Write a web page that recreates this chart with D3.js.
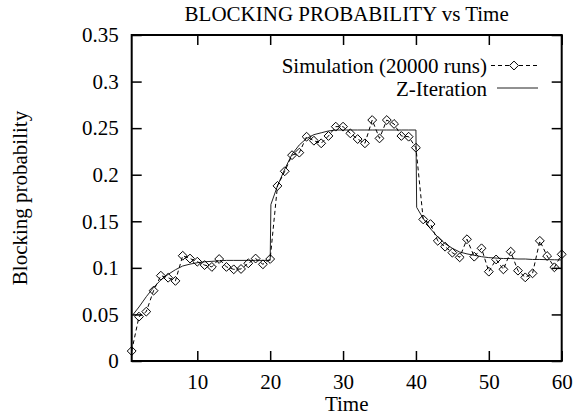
<!DOCTYPE html>
<html><head><meta charset="utf-8">
<script src="https://cdn.jsdelivr.net/npm/d3@7/dist/d3.min.js"></script>
<style>
body{margin:0;background:#fff;}
text{font-family:"Liberation Serif","Times New Roman",serif;font-size:21px;fill:#000;}
</style></head>
<body><svg id="c" width="583" height="418"></svg>
<script>
const simTime = d3.range(1, 61);
const simValues = [0.0107,0.0476,0.053,0.0755,0.0916,0.0894,0.086,0.113,0.110,0.1066,
  0.103,0.101,0.1095,0.101,0.0984,0.0988,0.1049,0.110,0.1038,0.1095,
  0.188,0.2037,0.221,0.2237,0.2408,0.2365,0.2337,0.2416,0.2516,0.2516,
  0.2444,0.2383,0.2337,0.2587,0.239,0.2587,0.2545,0.2416,0.2408,0.229,
  0.152,0.147,0.129,0.1227,0.1163,0.1113,0.1307,0.112,0.121,0.0959,
  0.109,0.0984,0.1174,0.097,0.0898,0.0941,0.129,0.1127,0.1006,0.1145];
const zTime = [1,2,3,4,5,6,7,8,9,10,11,12,13,14,15,16,17,18,19,20,20.1,21,22,23,24,25,26,27,28,29,30,31,32,33,34,35,36,37,38,39,40,40.1,41,42,43,44,45,46,47,48,49,50,51,52,53,54,55,56,57,58,59,60];
const zValues = [0.048,0.058,0.069,0.079,0.087,0.093,0.098,0.102,0.104,0.1055,0.1065,0.107,0.1075,0.108,0.108,0.108,0.108,0.108,0.108,0.108,
  0.168,0.188,0.206,0.222,0.232,0.239,0.243,0.245,0.247,0.248,0.248,0.248,0.248,0.248,0.248,0.248,0.248,0.248,0.248,0.248,0.248,
  0.165,0.153,0.142,0.133,0.126,0.121,0.117,0.115,0.1135,0.112,0.111,0.1105,0.110,0.110,0.1095,0.1095,0.109,0.109,0.1088,0.1087,0.1085];
const xTicks = [10,20,30,40,50,60];
const yTicks = [0,0.05,0.1,0.15,0.2,0.25,0.3,0.35];
const yTickLabels = ["0","0.05","0.1","0.15","0.2","0.25","0.3","0.35"];
const titleText = "BLOCKING PROBABILITY vs Time";
const xLabel = "Time", yLabel = "Blocking probability";
const seriesNames = ["Simulation (20000 runs)", "Z-Iteration"];

const L = 131.7, R = 561.7, T = 35, B = 361;
const svg = d3.select("#c");
const x = d3.scaleLinear().domain([1, 60]).range([L, R]);
const y = d3.scaleLinear().domain([0, 0.35]).range([B, T]);

const tl = 10;
const clean = g => { g.attr("font-family", null).attr("font-size", null); g.select(".domain").remove(); };
svg.append("g").attr("transform", `translate(0,${B})`)
  .call(d3.axisBottom(x).tickValues(xTicks).tickSize(-tl).tickPadding(13).tickFormat(d3.format("d")))
  .call(clean);
svg.append("g").attr("transform", `translate(0,${T})`)
  .call(d3.axisTop(x).tickValues(xTicks).tickSize(-tl).tickFormat(""))
  .call(clean);
svg.append("g").attr("transform", `translate(${L},0)`)
  .call(d3.axisLeft(y).tickValues(yTicks).tickSize(-tl).tickPadding(13).tickFormat((d, i) => yTickLabels[i]))
  .call(clean);
svg.append("g").attr("transform", `translate(${R},0)`)
  .call(d3.axisRight(y).tickValues(yTicks).tickSize(-tl).tickFormat(""))
  .call(clean);
svg.selectAll(".tick line").attr("stroke", "#000").attr("stroke-width", 1.5);

svg.append("rect").attr("x", L).attr("y", T).attr("width", R - L).attr("height", B - T)
  .attr("fill", "none").attr("stroke", "#000").attr("stroke-width", 2);

const zData = zTime.map((t, i) => [t, zValues[i]]);
svg.append("path").datum(zData)
  .attr("d", d3.line().x(d => x(d[0])).y(d => y(d[1])))
  .attr("fill", "none").attr("stroke", "#222").attr("stroke-width", 1);

const sData = simTime.map((t, i) => [t, simValues[i]]);
svg.append("path").datum(sData)
  .attr("d", d3.line().x(d => x(d[0])).y(d => y(d[1])))
  .attr("fill", "none").attr("stroke", "#000").attr("stroke-width", 1).attr("stroke-dasharray", "4,3");
const diamond = d3.symbol().type(d3.symbolDiamond2).size(50);
svg.append("g").selectAll("path").data(sData).join("path")
  .attr("d", diamond).attr("transform", d => `translate(${x(d[0])},${y(d[1])})`)
  .attr("fill", "none").attr("stroke", "#000").attr("stroke-width", 1);

svg.append("text").attr("x", (L + R) / 2).attr("y", 21).attr("text-anchor", "middle").text(titleText);
svg.append("text").attr("x", (L + R) / 2).attr("y", 411).attr("text-anchor", "middle").text(xLabel);
svg.append("text").attr("transform", `translate(27,${(T + B) / 2}) rotate(-90)`).attr("text-anchor", "middle").text(yLabel);

svg.append("text").attr("x", 487).attr("y", 73).attr("text-anchor", "end").text(seriesNames[0]);
svg.append("text").attr("x", 487).attr("y", 95.5).attr("text-anchor", "end").text(seriesNames[1]);
svg.append("line").attr("x1", 491).attr("x2", 538).attr("y1", 65.5).attr("y2", 65.5)
  .attr("stroke", "#000").attr("stroke-dasharray", "4,3");
svg.append("path").attr("d", diamond).attr("transform", "translate(514,65.5)")
  .attr("fill", "#fff").attr("stroke", "#000");
svg.append("line").attr("x1", 497).attr("x2", 538).attr("y1", 88).attr("y2", 88)
  .attr("stroke", "#222");
</script></body></html>
